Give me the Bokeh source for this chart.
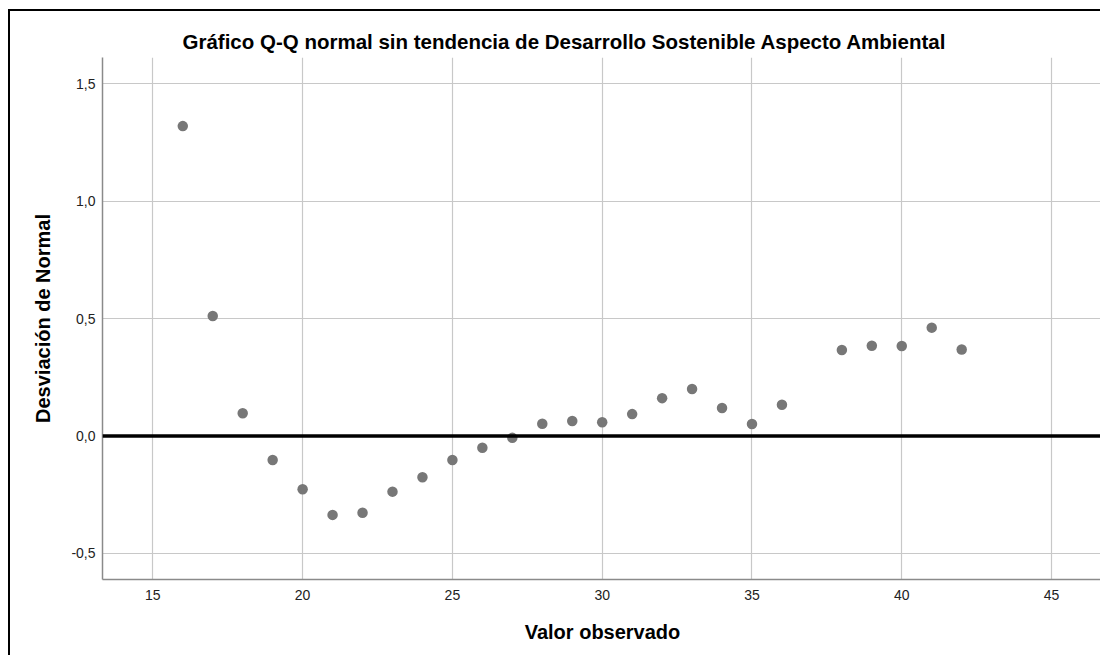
from bokeh.plotting import figure
from bokeh.models import FixedTicker, Span, Range1d
from bokeh.embed import file_html
from bokeh.resources import INLINE

# Data: observed value vs deviation from normal
valor_observado = [16, 17, 18, 19, 20, 21, 22, 23, 24, 25, 26, 27, 28, 29, 30,
                   31, 32, 33, 34, 35, 36, 38, 39, 40, 41, 42]
desviacion = [1.319, 0.511, 0.097, -0.102, -0.227, -0.336, -0.327, -0.237, -0.176,
              -0.102, -0.050, -0.008, 0.052, 0.064, 0.058, 0.093, 0.161, 0.200,
              0.119, 0.051, 0.133, 0.366, 0.384, 0.383, 0.461, 0.368]

x_ticks = [15, 20, 25, 30, 35, 40, 45]
y_ticks = [-0.5, 0.0, 0.5, 1.0, 1.5]
y_tick_labels = ["-0,5", "0,0", "0,5", "1,0", "1,5"]

title_text = "Gráfico Q-Q normal sin tendencia de Desarrollo Sostenible Aspecto Ambiental"
x_label = "Valor observado"
y_label = "Desviación de Normal"

FONT = "Liberation Sans"

p = figure(width=1092, height=646, output_backend="svg", toolbar_location=None,
           x_range=Range1d(13.32, 46.70), y_range=Range1d(-0.611, 1.611),
           min_border_left=92, min_border_top=46, min_border_bottom=78,
           min_border_right=0)
p.styles = {"border-top": "2px solid black", "border-left": "2px solid black",
            "margin-left": "8px", "margin-top": "9px"}

p.title.text = title_text
p.title.align = "left"
p.title.offset = 80
p.title.text_font = FONT
p.title.text_font_size = "20.5px"
p.title.text_font_style = "bold"
p.title.text_color = "black"
p.title.standoff = 10

p.outline_line_color = None
p.background_fill_color = "white"
p.border_fill_color = "white"

# grids
p.xgrid.ticker = FixedTicker(ticks=x_ticks)
p.ygrid.ticker = FixedTicker(ticks=y_ticks)
for g in (p.xgrid, p.ygrid):
    g.grid_line_color = "#c8c8c8"
    g.grid_line_width = 1.2

# axes
p.xaxis.ticker = FixedTicker(ticks=x_ticks)
p.yaxis.ticker = FixedTicker(ticks=y_ticks)
p.yaxis.major_label_overrides = {t: l for t, l in zip(y_ticks, y_tick_labels)}
for ax in (p.xaxis, p.yaxis):
    ax.axis_line_color = "#8a8a8a"
    ax.axis_line_width = 1.5
    ax.major_tick_line_color = None
    ax.minor_tick_line_color = None
    ax.major_tick_out = 0
    ax.major_tick_in = 0
    ax.minor_tick_out = 0
    ax.minor_tick_in = 0
    ax.major_label_text_font = FONT
    ax.major_label_text_font_size = "14px"
    ax.major_label_text_color = "#222222"
    ax.axis_label_text_font = FONT
    ax.axis_label_text_font_size = "20px"
    ax.axis_label_text_font_style = "bold"
    ax.axis_label_text_color = "black"
p.xaxis.major_label_standoff = 10
p.yaxis.major_label_standoff = 7
p.xaxis.axis_label = x_label
p.yaxis.axis_label = y_label
p.xaxis.axis_label_standoff = 18
p.yaxis.axis_label_standoff = 14

# zero reference line
p.add_layout(Span(location=0, dimension="width", line_color="black", line_width=3.5))

p.scatter(valor_observado, desviacion, size=10.5, fill_color="#777777",
          line_color=None)

open("out.html", "w").write(file_html(p, INLINE))
